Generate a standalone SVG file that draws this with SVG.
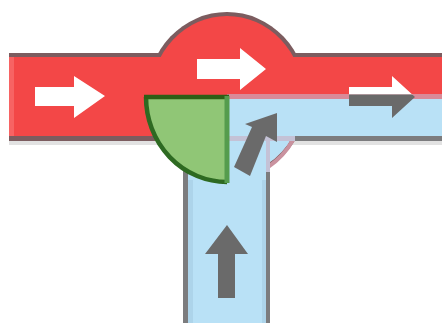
<svg xmlns="http://www.w3.org/2000/svg" width="442" height="324" viewBox="0 0 442 324">
<style>
.g{fill:#6b6b6b}.w{fill:#fff}
</style>
<defs>
<filter id="b" x="-10%" y="-10%" width="120%" height="120%"><feGaussianBlur stdDeviation="0.7"/></filter>
<clipPath id="up"><rect x="340" y="60" width="90" height="34.500"/></clipPath>
<clipPath id="dn"><rect x="340" y="94.500" width="90" height="40"/></clipPath>
</defs>
<rect width="442" height="324" fill="#fff"/>
<g filter="url(#b)">
<rect x="9" y="139" width="433" height="6" fill="#e2e2e2"/>
<ellipse cx="227" cy="96" rx="80" ry="84" fill="#7b5c5e"/>
<rect x="9" y="53" width="433" height="88" fill="#7b5c5e"/>
<rect x="183" y="146" width="87" height="178" fill="#7c7c7e"/>
<rect x="227" y="136" width="68" height="5" fill="#c4c2d6"/>
<rect x="295" y="136" width="147" height="5" fill="#7c7c7e"/>
<rect x="9" y="57" width="433" height="79" fill="#f34747"/>
<rect x="9" y="57" width="5" height="79" fill="#f76464"/>
<ellipse cx="227" cy="96" rx="76" ry="80" fill="#f34747"/>
<path d="M227 96H303A76 80 0 0 1 266 165V323H188V96Z" fill="#b9e1f6"/>
<path d="M293 140A76 80 0 0 1 268 167" fill="none" stroke="#c9929f" stroke-width="4"/>
<rect x="227" y="99" width="215" height="37" fill="#b9e1f6"/>
<rect x="227" y="94" width="215" height="5" fill="#d98a98"/>
<rect x="227" y="136" width="68" height="5" fill="#c4c2d6"/>
<rect x="188" y="180" width="5" height="143" fill="#add4ea"/>
<rect x="262" y="180" width="4" height="143" fill="#add4ea"/>
<path d="M268 141V172" stroke="#c4c2d6" stroke-width="4" fill="none"/>
<path d="M227 97H146.500A80 84 0 0 0 227 181Z" fill="#90c676"/>
<path d="M146 97A81 85 0 0 0 227 182" fill="none" stroke="#2d6b20" stroke-width="4.500"/>
<path d="M144 97H229" stroke="#2e5f14" stroke-width="4.500"/>
<path d="M227 96V183" stroke="#549c4e" stroke-width="5"/>
<rect x="0" y="323" width="442" height="1" fill="#fff"/>
<rect x="0" y="53" width="9" height="92" fill="#fff"/>
</g>
<g filter="url(#b)">
<polygon class="w" points="35,87 74,87 74,76 105,96 74,118 74,106 35,106"/>
<polygon class="w" points="197,59 240,59 240,48 266,69 240,90 240,79 197,79"/>
<polygon class="w" clip-path="url(#up)" points="349,87 392,87 392,76 415,97 392,118 392,106 349,106"/>
<polygon class="g" clip-path="url(#dn)" points="349,87 392,87 392,76 415,97 392,118 392,106 349,106"/>
<polygon class="g" points="227,225 248,254 235,254 235,298 218,298 218,254 205,254"/>
<polygon class="g" points="277,113 277,142 266,136 250,176 234,167 252,127 245,124"/>
</g>
</svg>
